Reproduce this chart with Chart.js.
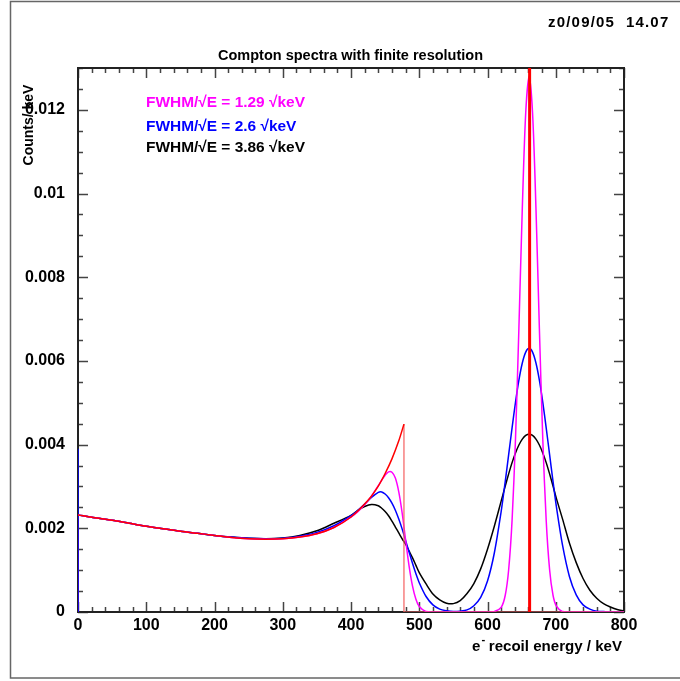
<!DOCTYPE html>
<html>
<head>
<meta charset="utf-8">
<script src="https://cdn.jsdelivr.net/npm/chart.js@4.4.0/dist/chart.umd.min.js"></script>
<style>
  html, body { margin: 0; padding: 0; background: #fff; }
  canvas { display: block; }
</style>
</head>
<body>
<canvas id="compton" width="680" height="681"></canvas>
<script>
// shared energy grid for the smeared spectra (keV)
const energyKeV = [
  0, 25, 50, 75, 100, 125, 150, 175, 200, 225, 250, 275, 300, 325, 350, 375, 400,
  410, 420, 430, 440,
  445, 450, 455, 460, 465, 470, 475, 480, 485, 490, 495, 500,
  510, 520, 530, 540, 550, 560, 570, 580, 590, 600, 610, 620,
  626, 631, 636, 641, 646, 651, 656, 661, 666, 671, 676, 681, 686, 691, 696, 701,
  710, 720, 730, 740, 750, 760, 770, 780, 790, 800
];

// FWHM/sqrt(E) = 1.29 sqrt(keV)
const countsMagenta = [
  0.00232, 0.00225, 0.00219, 0.00212, 0.00205, 0.00199, 0.00193, 0.00188, 0.00183, 0.00178, 0.00175, 0.00174, 0.00175, 0.00179, 0.00187, 0.00202, 0.00227,
  0.00240, 0.00256, 0.00277, 0.00302,
  0.00315, 0.00327, 0.00335, 0.00334, 0.00320, 0.00287, 0.00236, 0.00172, 0.00111, 0.00063, 0.00031, 0.00013,
  0.00001, 0, 0, 0, 0, 0, 0, 0, 0, 0, 0.00001, 0.00011,
  0.00040, 0.00101, 0.00219, 0.00413, 0.00678, 0.00965, 0.01193, 0.01280, 0.01193, 0.00965, 0.00678, 0.00413, 0.00219, 0.00101, 0.00040, 0.00014,
  0.00001, 0, 0, 0, 0, 0, 0, 0, 0, 0
];

// FWHM/sqrt(E) = 2.6 sqrt(keV)
const countsBlue = [
  0.00232, 0.00225, 0.00219, 0.00212, 0.00205, 0.00199, 0.00193, 0.00188, 0.00183, 0.00179, 0.00176, 0.00175, 0.00176, 0.00181, 0.00190, 0.00206, 0.00230,
  0.00243, 0.00258, 0.00274, 0.00286,
  0.00287, 0.00282, 0.00273, 0.00260, 0.00243, 0.00222, 0.00198, 0.00171, 0.00144, 0.00117, 0.00092, 0.00070,
  0.00037, 0.00017, 0.00007, 0.00003, 0.00001, 0.00002, 0.00005, 0.00015, 0.00035, 0.00074, 0.00141, 0.00240,
  0.00312, 0.00376, 0.00440, 0.00501, 0.00554, 0.00595, 0.00621, 0.00630, 0.00621, 0.00595, 0.00554, 0.00501, 0.00440, 0.00376, 0.00312, 0.00251,
  0.00159, 0.00085, 0.00041, 0.00017, 0.00007, 0.00002, 0.00001, 0, 0, 0
];

// FWHM/sqrt(E) = 3.86 sqrt(keV)
const countsBlack = [
  0.00232, 0.00225, 0.00219, 0.00212, 0.00205, 0.00199, 0.00193, 0.00188, 0.00183, 0.00179, 0.00176, 0.00175, 0.00177, 0.00183, 0.00194, 0.00212, 0.00231,
  0.00243, 0.00252, 0.00257, 0.00254,
  0.00248, 0.00240, 0.00230, 0.00217, 0.00203, 0.00189, 0.00175, 0.00162, 0.00146, 0.00130, 0.00112, 0.00094,
  0.00067, 0.00043, 0.00029, 0.00021, 0.00020, 0.00027, 0.00044, 0.00068, 0.00103, 0.00150, 0.00205, 0.00265,
  0.00301, 0.00330, 0.00357, 0.00380, 0.00399, 0.00413, 0.00422, 0.00425, 0.00422, 0.00413, 0.00399, 0.00380, 0.00357, 0.00330, 0.00301, 0.00271,
  0.00222, 0.00165, 0.00118, 0.00080, 0.00052, 0.00033, 0.00020, 0.00012, 0.00006, 0.00003
];

// unsmeared spectrum: continuum up to the Compton edge, then the photopeak line
const idealEnergy = [0, 25, 50, 75, 100, 125, 150, 175, 200, 225, 250, 275, 300, 325, 350, 375, 400, 425, 440, 450, 460, 470, 477.6];
const idealCounts = [0.00232, 0.00225, 0.00219, 0.00212, 0.00205, 0.00199, 0.00193, 0.00188, 0.00183, 0.00178, 0.00175, 0.00174, 0.00175, 0.00179, 0.00187, 0.00202, 0.00227, 0.00267, 0.00301, 0.00331, 0.00366, 0.00409, 0.00449];
const edgeEnergy = [477.6, 477.6, 800];
const edgeCounts = [0.00449, 0, 0];
const peakEnergy = [661.7, 661.7];
const peakCounts = [0, 0.0135];

// first histogram bin spikes at E = 0
const spikeEnergy = [0, 0];
const spikeBlue = [0, 0.0039];
const spikeMagenta = [0, 0.00232];

const xTickValues = [0, 100, 200, 300, 400, 500, 600, 700, 800];
const yTickValues = [0, 0.002, 0.004, 0.006, 0.008, 0.01, 0.012];
const yTickLabels = ['0', '0.002', '0.004', '0.006', '0.008', '0.01', '0.012'];

const legendLines = [
  { text: 'FWHM/\u221AE = 1.29 \u221AkeV', color: '#ff00ff' },
  { text: 'FWHM/\u221AE = 2.6 \u221AkeV', color: '#0000ff' },
  { text: 'FWHM/\u221AE = 3.86 \u221AkeV', color: '#000000' }
];

const FONT = '"Liberation Sans", Arial, sans-serif';

function points(xs, ys) {
  return xs.map((x, i) => ({ x: x, y: ys[i] }));
}

function line(label, xs, ys, color, width, tension) {
  return {
    label: label,
    data: points(xs, ys),
    borderColor: color,
    borderWidth: width,
    pointRadius: 0,
    tension: tension,
    fill: false
  };
}

// pick a bold font size so that text spans the wanted width
function fitFont(ctx, text, width) {
  ctx.font = 'bold 20px ' + FONT;
  const size = 20 * width / ctx.measureText(text).width;
  ctx.font = 'bold ' + size.toFixed(2) + 'px ' + FONT;
  return size;
}

// frame, inward ticks on all four sides, and the PAW style texts
const pawDecor = {
  id: 'pawDecor',
  beforeDatasetsDraw(chart) {
    const ctx = chart.ctx;
    const a = chart.chartArea;
    const xs = chart.scales.x;
    const ys = chart.scales.y;
    ctx.save();
    ctx.strokeStyle = '#444';
    ctx.lineWidth = 1.5;
    ctx.beginPath();
    for (let i = 0; i <= 40; i++) {
      const px = Math.round(xs.getPixelForValue(i * 20)) + 0.5;
      const len = i % 5 === 0 ? 10 : 5;
      ctx.moveTo(px, a.bottom); ctx.lineTo(px, a.bottom - len);
      ctx.moveTo(px, a.top); ctx.lineTo(px, a.top + len);
    }
    for (let i = 0; i <= 26; i++) {
      const py = Math.round(ys.getPixelForValue(i * 0.0005)) + 0.5;
      const len = i % 4 === 0 ? 10 : 5;
      ctx.moveTo(a.left, py); ctx.lineTo(a.left + len, py);
      ctx.moveTo(a.right, py); ctx.lineTo(a.right - len, py);
    }
    ctx.stroke();
    ctx.strokeStyle = '#222';
    ctx.lineWidth = 2;
    ctx.strokeRect(a.left, a.top, a.right - a.left, a.bottom - a.top);
    ctx.restore();
  },
  afterDraw(chart) {
    const ctx = chart.ctx;
    ctx.save();
    // outer frame
    ctx.strokeStyle = '#666';
    ctx.lineWidth = 1.5;
    ctx.strokeRect(10.5, 1.5, 700, 676.5);

    ctx.fillStyle = '#000';
    ctx.textBaseline = 'middle';
    ctx.textAlign = 'left';
    ctx.font = 'bold 15px ' + FONT;
    ctx.letterSpacing = '1.2px';
    ctx.fillText('z0/09/05  14.07', 548, 23);
    ctx.letterSpacing = '0px';

    fitFont(ctx, 'Compton spectra with finite resolution', 265);
    ctx.fillText('Compton spectra with finite resolution', 218, 56);

    fitFont(ctx, legendLines[0].text, 159);
    const legendY = [103, 127, 148];
    legendLines.forEach((l, i) => {
      ctx.fillStyle = l.color;
      ctx.fillText(l.text, 146, legendY[i]);
    });

    // y axis title
    ctx.fillStyle = '#000';
    ctx.save();
    ctx.translate(29, 125);
    ctx.rotate(-Math.PI / 2);
    ctx.textAlign = 'center';
    ctx.font = 'bold 14px ' + FONT;
    ctx.fillText('Counts/ keV', 0, 0);
    ctx.restore();

    // x axis title with superscript minus
    const rest = ' recoil energy / keV';
    const size = fitFont(ctx, 'e ' + rest, 150);
    const wE = ctx.measureText('e').width;
    const wSup = ctx.measureText(' ').width;
    ctx.fillText('e', 472, 647);
    ctx.fillText(rest, 472 + wE + wSup, 647);
    ctx.font = 'bold ' + (size * 0.75).toFixed(2) + 'px ' + FONT;
    ctx.fillText('-', 472 + wE + 1, 640);
    ctx.restore();
  }
};

new Chart(document.getElementById('compton'), {
  type: 'line',
  data: {
    datasets: [
      line('photopeak', peakEnergy, peakCounts, '#ff0000', 3, 0),
      line('ideal', idealEnergy, idealCounts, '#ff0000', 1.5, 0.3),
      line('edge', edgeEnergy, edgeCounts, '#f46060', 1.2, 0),
      line('1.29', energyKeV, countsMagenta, '#ff00ff', 1.5, 0.3),
      line('2.6', energyKeV, countsBlue, '#0000ff', 1.5, 0.3),
      line('3.86', energyKeV, countsBlack, '#000000', 1.5, 0.3),
      line('spike blue', spikeEnergy, spikeBlue, '#0000ff', 1.5, 0),
      line('spike magenta', spikeEnergy, spikeMagenta, '#b000b0', 1.5, 0)
    ]
  },
  options: {
    responsive: false,
    animation: false,
    devicePixelRatio: 1,
    layout: { padding: { top: 68, right: 56, left: 0, bottom: 0 } },
    plugins: {
      legend: { display: false },
      title: { display: false },
      tooltip: { enabled: false }
    },
    scales: {
      x: {
        type: 'linear',
        min: 0,
        max: 800,
        grid: { display: false, drawTicks: false },
        border: { display: false },
        afterFit: s => { s.height = 69; },
        afterBuildTicks: s => { s.ticks = xTickValues.map(v => ({ value: v })); },
        ticks: {
          padding: 4,
          color: '#000',
          maxRotation: 0,
          font: { family: FONT, size: 16, weight: 'bold' },
          callback: v => String(v)
        }
      },
      y: {
        type: 'linear',
        min: 0,
        max: 0.013,
        grid: { display: false, drawTicks: false },
        border: { display: false },
        afterFit: s => { s.width = 78; },
        afterBuildTicks: s => { s.ticks = yTickValues.map(v => ({ value: v })); },
        ticks: {
          padding: 13,
          color: '#000',
          font: { family: FONT, size: 16, weight: 'bold' },
          callback: v => {
            const i = yTickValues.findIndex(t => Math.abs(t - v) < 1e-9);
            return i >= 0 ? yTickLabels[i] : '';
          }
        }
      }
    }
  },
  plugins: [pawDecor]
});
</script>
</body>
</html>
